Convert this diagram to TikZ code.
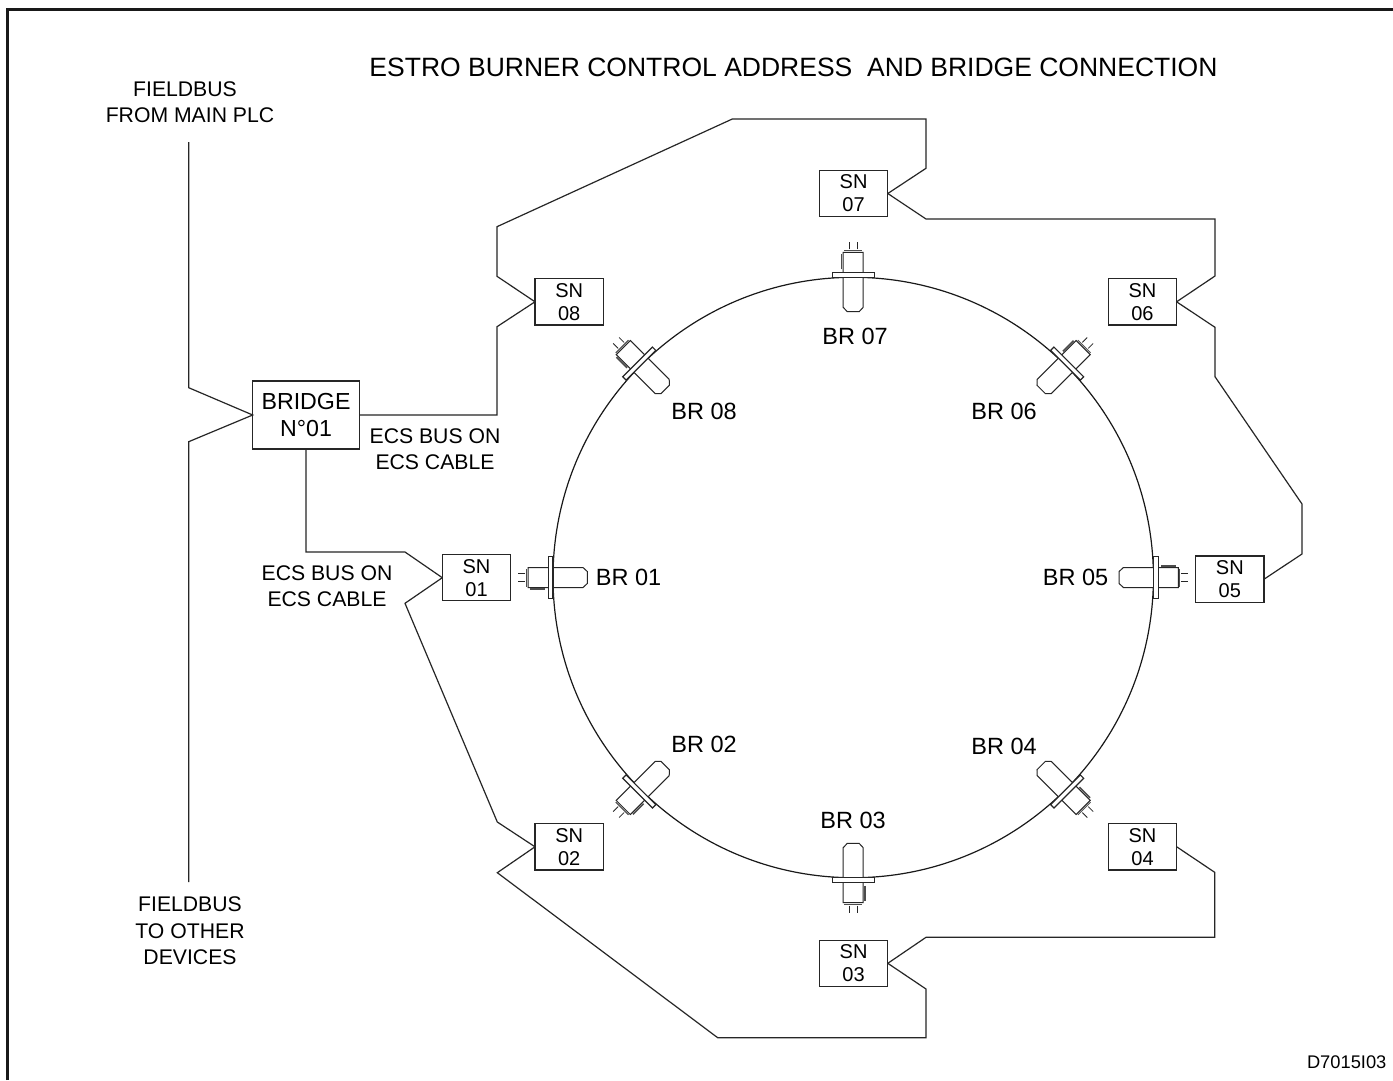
\documentclass[tikz,border=0pt]{standalone}
\usepackage{fontspec}
\setmainfont{Liberation Sans}
\tikzset{
  wire/.style={line width=1.2pt,black!85,line join=miter},
  snbox/.style={draw=black!85,text=black,line width=1.2pt,minimum width=68.4pt,minimum height=46.3pt,inner sep=0pt,outer sep=0pt,align=center,font=\fontsize{20}{23}\selectfont},
  brlabel/.style={inner sep=0pt,text=black,font=\fontsize{23.5}{26}\selectfont},
  note/.style={inner sep=0pt,text=black,align=center,font=\fontsize{21.2}{26.5}\selectfont},
  burner/.pic={
    \draw[line width=1pt,black!85,fill=white] (-10,-25) -- (10,-25) -- (10,30) -- (6,34.3) -- (-6,34.3) -- (-10,30) -- cycle;
    \draw[line width=1.2pt,black!85,fill=white] (-21,-4.7) rectangle (21,0);
    \draw[line width=1pt,black!70] (-9,-26.5) -- (9,-26.5);
    \draw[line width=1.6pt,black!70] (-11.7,-8) -- (-11.7,-23);
    \draw[line width=.8pt,black!85] (-4.2,-28) -- (-4.2,-35) (4.2,-28) -- (4.2,-35);
  }
}
\begin{document}
\begin{tikzpicture}[x=1pt,y=-1pt]
\useasboundingbox (0,0) rectangle (1393,1080);
\fill[white] (0,0) rectangle (1393,1080);
\draw[line width=3pt,black!90] (7.5,1080) -- (7.5,9) -- (1393,9);

\node[circle,draw=black!90,line width=1.2pt,minimum size=600.4pt,inner sep=0pt,outer sep=0pt] (ring) at (853.2,577.5) {};
\pic[rotate=90]  at (ring.180) {burner};
\pic[rotate=135] at (ring.225) {burner};
\pic[rotate=180] at (ring.270) {burner};
\pic[rotate=225] at (ring.315) {burner};
\pic[rotate=270] at (ring.0)   {burner};
\pic[rotate=315] at (ring.45)  {burner};
\pic[rotate=0]   at (ring.90)  {burner};
\pic[rotate=45]  at (ring.135) {burner};

\node[snbox] (sn1) at (476.5,577.7) {SN\\01};
\node[snbox] (sn2) at (569.2,846.8) {SN\\02};
\node[snbox] (sn3) at (853.6,963.3) {SN\\03};
\node[snbox] (sn4) at (1142.5,846.8) {SN\\04};
\node[snbox] (sn5) at (1229.8,579.2) {SN\\05};
\node[snbox] (sn6) at (1142.4,301.8) {SN\\06};
\node[snbox] (sn7) at (853.6,193.5) {SN\\07};
\node[snbox] (sn8) at (569.2,301.8) {SN\\08};
\node[draw=black!85,text=black,line width=1.2pt,minimum width=106.6pt,minimum height=68pt,inner sep=0pt,outer sep=0pt,align=center,font=\fontsize{23.2}{27.5}\selectfont] (bridge) at (306,415) {BRIDGE\\N°01};

\coordinate (fbtop) at (188.7,142);
\coordinate (fbbot) at (188.7,882);
\draw[wire] (fbtop) -- (188.7,387.7) -- (bridge.west) -- (188.7,441.7) -- (fbbot);
\draw[wire] (bridge.east) -- (497,415) -- (497,326.7) -- (sn8.west);
\draw[wire] (sn8.west) -- (497,276.3) -- (497,226.7) -- (732.3,119) -- (926,119) -- (926,168.3) -- (sn7.east);
\draw[wire] (sn7.east) -- (926,219) -- (1215,219) -- (1215,276) -- (sn6.east);
\draw[wire] (sn6.east) -- (1215,327.3) -- (1215,376.7) -- (1302,504) -- (1302,554) -- (sn5.east);
\draw[wire] (sn4.east) -- (1214.7,872.3) -- (1214.7,937.3) -- (926,937.3) -- (sn3.east);
\draw[wire] (sn3.east) -- (926,989) -- (926,1037.7) -- (717.7,1037.7) -- (497.3,872.7) -- (sn2.west);
\draw[wire] (sn2.west) -- (497.3,822) -- (405,603.3) -- (sn1.west);
\draw[wire] (sn1.west) -- (405,552) -- (306,552) -- (bridge.south);

\node[brlabel] (l1) at (628.5,577.5) {BR 01};
\node[brlabel] (l2) at (704,744) {BR 02};
\node[brlabel] (l3) at (853,820) {BR 03};
\node[brlabel] (l4) at (1004,746) {BR 04};
\node[brlabel] (l5) at (1075.5,577.5) {BR 05};
\node[brlabel] (l6) at (1004,411) {BR 06};
\node[brlabel] (l7) at (855,336) {BR 07};
\node[brlabel] (l8) at (704,411) {BR 08};

\node[inner sep=0pt,text=black,font=\fontsize{26.5}{30}\selectfont] (title) at (793.5,67) {ESTRO BURNER CONTROL ADDRESS\ \ AND BRIDGE CONNECTION};
\node[note] (from) at (190,102) {FIELDBUS\hspace*{10pt}\\FROM MAIN PLC};
\node[note] (other) at (190,931) {FIELDBUS\\TO OTHER\\DEVICES};
\node[note] (ecsa) at (435,449) {ECS BUS ON\\ECS CABLE};
\node[note] (ecsb) at (327,586) {ECS BUS ON\\ECS CABLE};
\node[inner sep=0pt,text=black,font=\fontsize{18.3}{22}\selectfont] (code) at (1346.7,1061.7) {D7015I03};
\end{tikzpicture}
\end{document}
